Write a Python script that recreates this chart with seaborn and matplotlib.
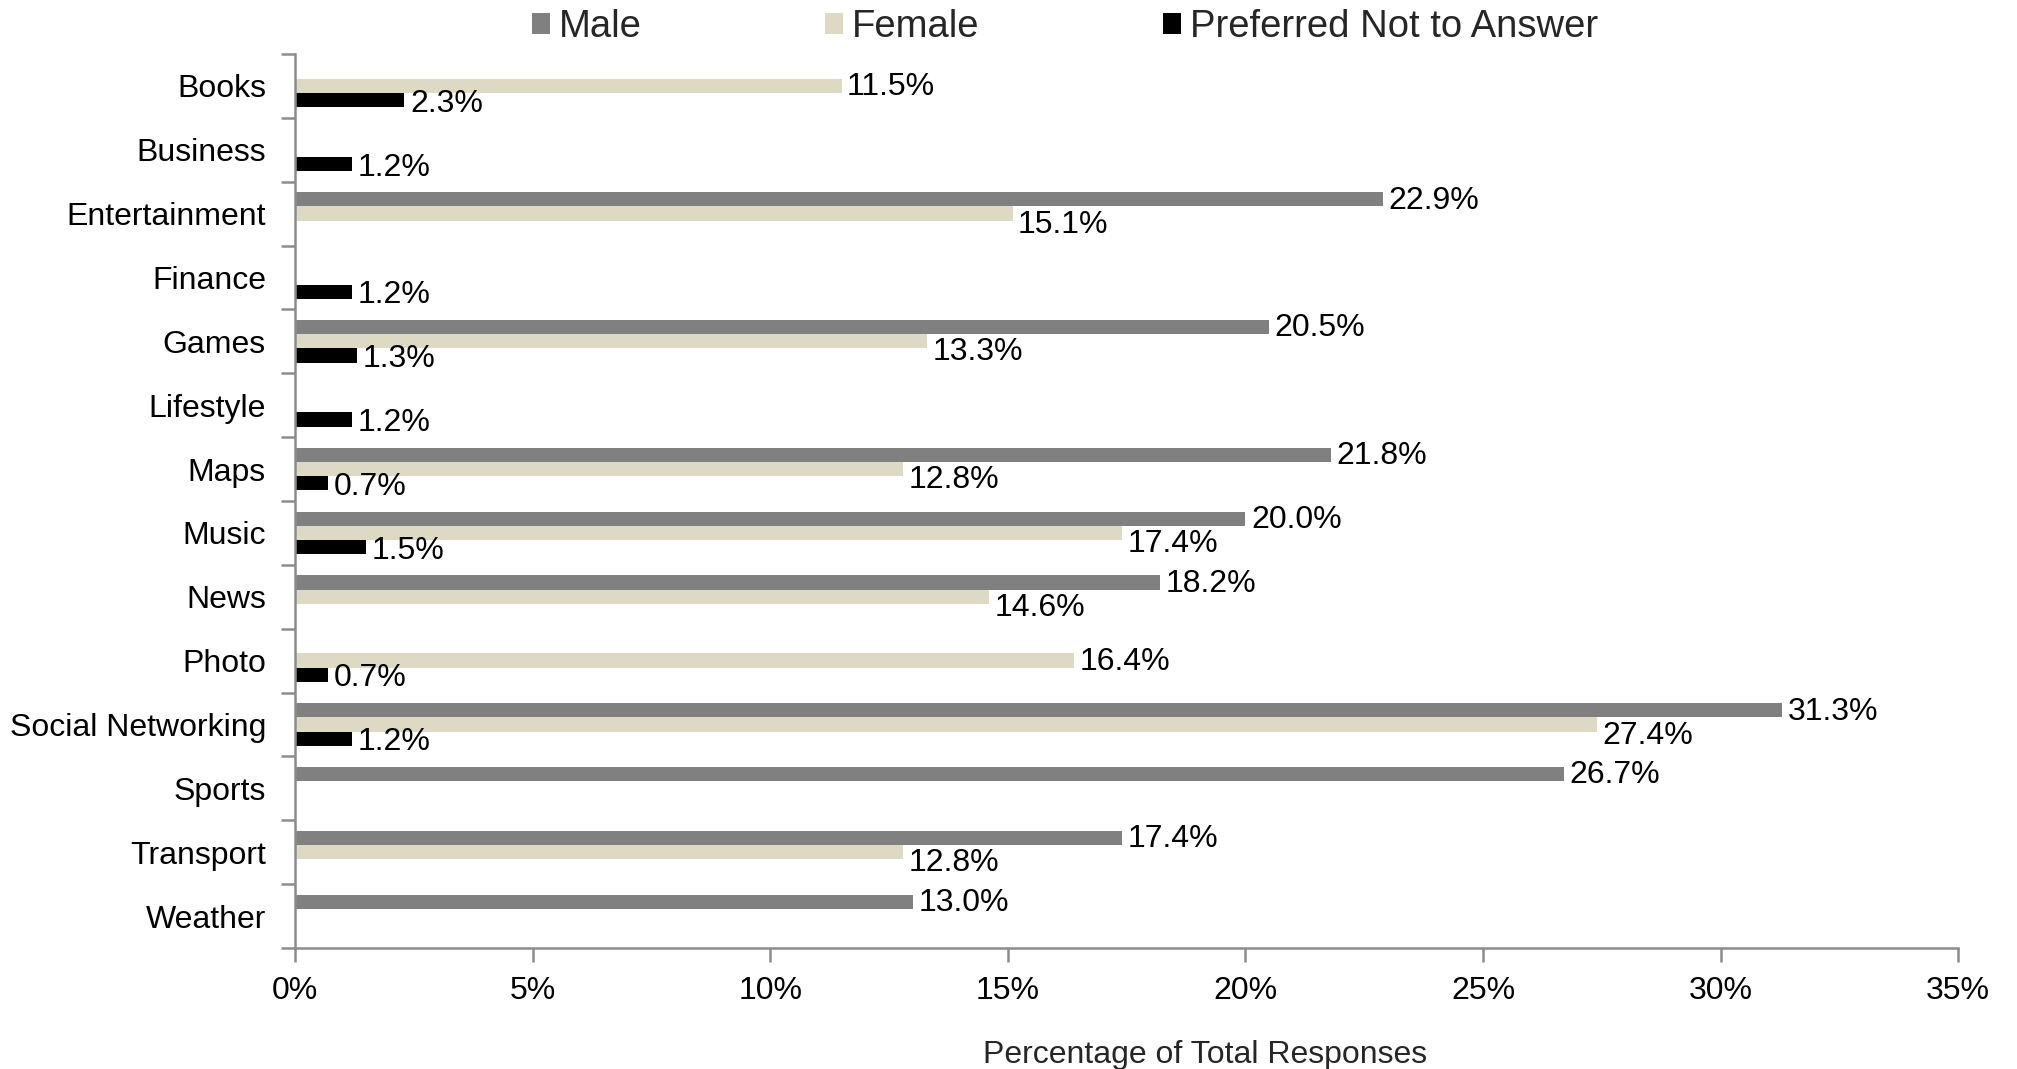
import numpy as np
import pandas as pd
import matplotlib
matplotlib.use("Agg")
import matplotlib.pyplot as plt
from matplotlib.patches import Patch
from matplotlib.ticker import FixedLocator, PercentFormatter
import seaborn as sns

categories = ["Books", "Business", "Entertainment", "Finance", "Games", "Lifestyle",
              "Maps", "Music", "News", "Photo", "Social Networking", "Sports",
              "Transport", "Weather"]
male = [np.nan, np.nan, 22.9, np.nan, 20.5, np.nan, 21.8, 20.0, 18.2, np.nan, 31.3, 26.7, 17.4, 13.0]
female = [11.5, np.nan, 15.1, np.nan, 13.3, np.nan, 12.8, 17.4, 14.6, 16.4, 27.4, np.nan, 12.8, np.nan]
no_answer = [2.3, 1.2, np.nan, 1.2, 1.3, 1.2, 0.7, 1.5, np.nan, 0.7, 1.2, np.nan, np.nan, np.nan]
groups = ["Male", "Female", "Preferred Not to Answer"]
colors = ["#808080", "#ddd9c3", "#000000"]
x_ticks = [0, 5, 10, 15, 20, 25, 30, 35]

df = pd.DataFrame({
    "category": categories * 3,
    "group": [g for g in groups for _ in categories],
    "value": male + female + no_answer,
}).dropna()

sns.set_theme(style="white")
plt.rcParams["font.family"] = ["Liberation Sans", "DejaVu Sans"]
FS = 23
axis_grey = "#8c8c8c"

fig = plt.figure(figsize=(20.17, 10.69), dpi=100)
ax = fig.add_axes([0.1463, 0.1132, 0.9708 - 0.1463, 0.9495 - 0.1132])

sns.barplot(data=df, y="category", x="value", hue="group", order=categories,
            hue_order=groups, palette=colors, orient="h", width=0.67,
            saturation=1, ax=ax, legend=False, linewidth=0)

ax.set_xlim(0, 35)
ax.set_ylim(len(categories) - 0.5, -0.5)
ax.xaxis.set_major_locator(FixedLocator(x_ticks))
ax.xaxis.set_major_formatter(PercentFormatter(decimals=0))

# category names centred, tick marks on the band boundaries
ax.yaxis.set_minor_locator(FixedLocator(np.arange(-0.5, len(categories), 1.0)))
ax.tick_params(axis="y", which="major", length=0, pad=21, labelsize=FS, colors="black")
ax.tick_params(axis="y", which="minor", length=10, width=1.8, color=axis_grey, left=True)
ax.tick_params(axis="x", which="major", length=10, width=1.8, color=axis_grey,
               bottom=True, pad=10, labelsize=FS, labelcolor="black")

for side in ["top", "right"]:
    ax.spines[side].set_visible(False)
for side in ["left", "bottom"]:
    ax.spines[side].set_color(axis_grey)
    ax.spines[side].set_linewidth(1.8)

ax.set_ylabel("")
ax.set_xlabel("Percentage of Total Responses", fontsize=FS, labelpad=25)
ax.xaxis.label.set_x(0.547)

# value labels at the end of each bar
series = [male, female, no_answer]
h = 0.67 / 3
for gi, vals in enumerate(series):
    for ci, v in enumerate(vals):
        if np.isnan(v):
            continue
        yc = ci + (gi - 1) * h
        dy = -1
        if gi == 1:
            dy = -8 if not np.isnan(male[ci]) else -1
        elif gi == 2:
            dy = -2.5
        ax.annotate(f"{v:.1f}%", xy=(v, yc), xytext=(4, dy), textcoords="offset points",
                    ha="left", va="center", fontsize=FS, color="black")

handles = [Patch(facecolor=c, edgecolor="none") for c in colors]
fig.legend(handles, groups, loc="center", bbox_to_anchor=(0.528, 0.975), ncol=3,
           frameon=False, fontsize=27.5, handlelength=0.47, handleheight=0.47,
           handletextpad=0.24, columnspacing=4.8)

fig.savefig("out.png", dpi=100)
